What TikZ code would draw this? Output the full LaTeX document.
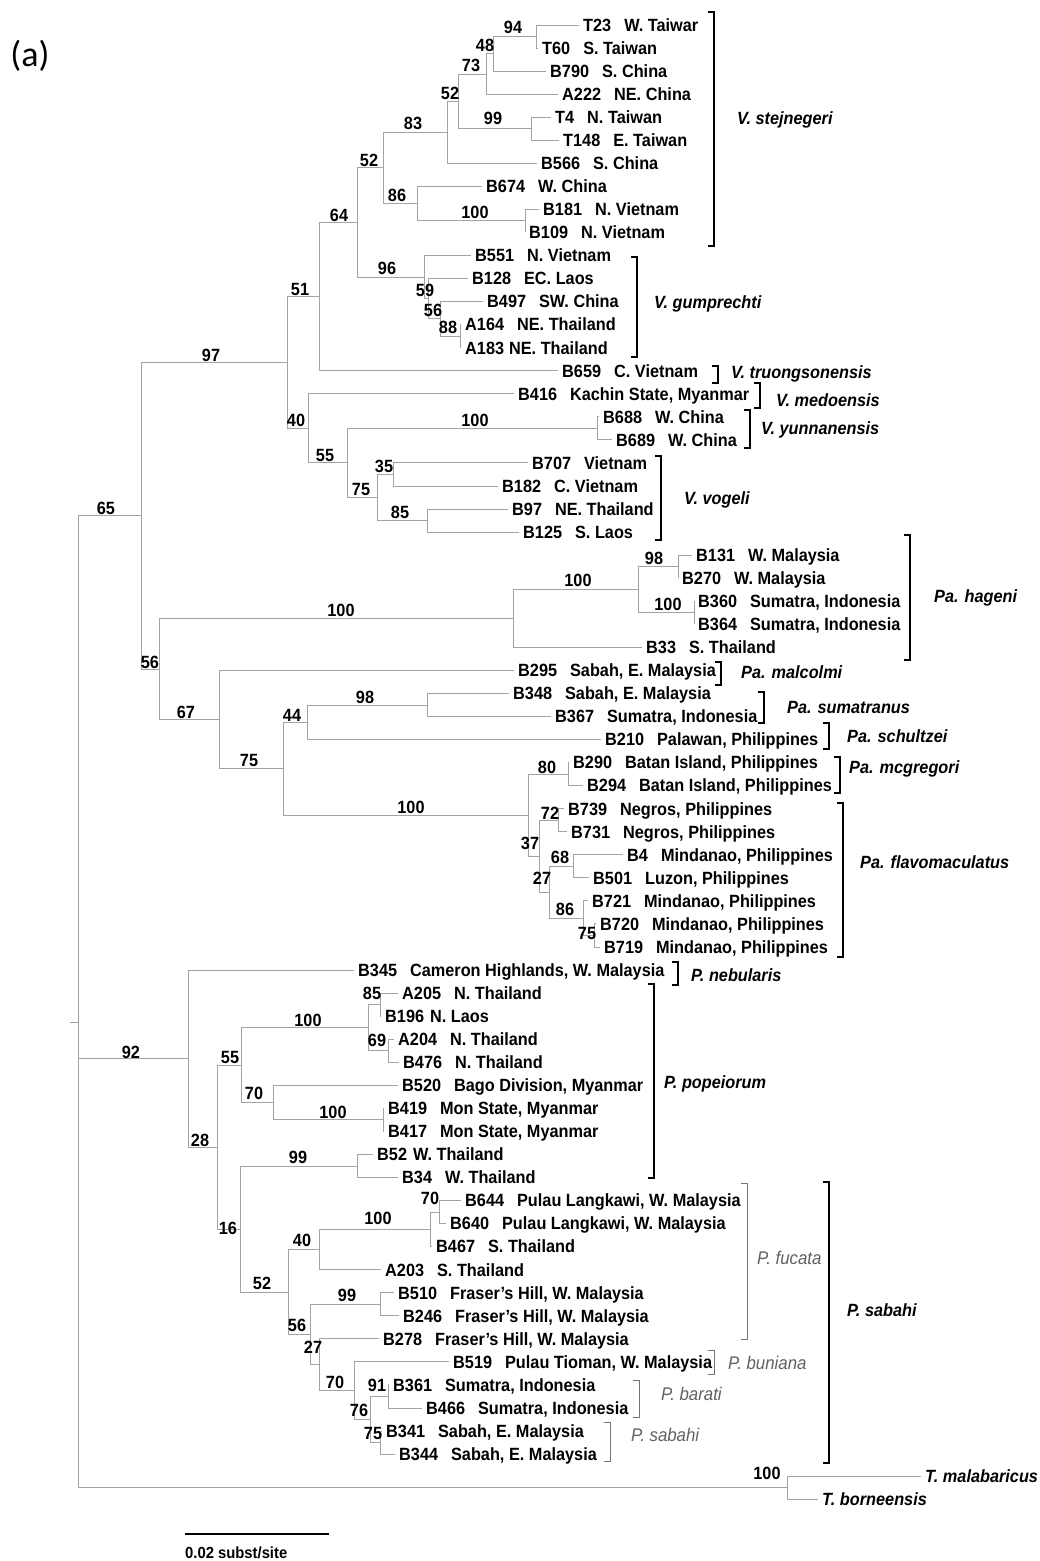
\documentclass[tikz,border=0pt]{standalone}
\usepackage{fontspec}
\setmainfont{Liberation Sans}[FakeStretch=0.92]
\newfontfamily\calibfont{Carlito}
\newcommand\codegap{\hspace{13pt}}
% leaf: name, parent, west x, y, text
\newcommand\tleaf[5]{\node[leaflab] (#1) at (#3,#4) {#5};\draw[branch] (#2) |- (#1.west);}
\newcommand\tleafit[5]{\node[leaflab,leafit] (#1) at (#3,#4) {#5};\draw[branch] (#2) |- (#1.west);}
% species bracket: x, top y, bottom y, style
\newcommand\clade[4]{\draw[#4] ([xshift=-6pt]#1,#2) -- (#1,#2) -- (#1,#3) -- ([xshift=-6pt]#1,#3);}
\begin{document}
\begin{tikzpicture}[x=1pt,y=-1pt,
  branch/.style={draw=black!36,line width=1pt},
  lab/.style={font=\bfseries\fontsize{17.7}{20}\selectfont,text height=12.6pt,text depth=0pt},
  leaflab/.style={lab,anchor=west,inner xsep=4pt,inner ysep=0pt},
  leafit/.style={font=\bfseries\itshape\fontsize{17.7}{20}\selectfont},
  bs/.style={lab,inner sep=0pt},
  sp/.style={anchor=west,inner sep=0pt,text height=12.6pt,text depth=0pt,font=\bfseries\itshape\fontsize{17.7}{20}\selectfont},
  spg/.style={anchor=west,inner sep=0pt,text height=12.6pt,text depth=0pt,text=black!62,font=\itshape\fontsize{18.3}{20}\selectfont},
  brk/.style={draw=black,line width=1.5pt},
  brkg/.style={draw=black!55,line width=1pt}]
\useasboundingbox (0,0) rectangle (1040,1561);
\fill[white] (0,0) rectangle (1040,1561);

\node[font=\calibfont\fontsize{36}{42}\selectfont,inner sep=0pt] (panel) at (30,56) {(a)};

% ---------- internal nodes ----------
\coordinate (root) at (78,1022);
\coordinate (rootstub) at (70,1022);
\coordinate (n65) at (141,515.75);
\coordinate (n97) at (287,362.5);
\coordinate (n51) at (319,296.6);
\coordinate (n64) at (357,222.5);
\coordinate (n52) at (383,167.95);
\coordinate (n83) at (447,132.3);
\coordinate (n52b) at (458,101.35);
\coordinate (n73) at (486,74.0);
\coordinate (n48) at (493,53.8);
\coordinate (n94) at (536,36.5);
\coordinate (n99) at (531,128.7);
\coordinate (n86) at (417,203.6);
\coordinate (n100a) at (525,220.9);
\coordinate (n96) at (424,277.1);
\coordinate (n59) at (428,298.7);
\coordinate (n56g) at (440,318.9);
\coordinate (n88) at (460,336.2);
\coordinate (n40) at (308,428.4);
\coordinate (n55) at (347,462.95);
\coordinate (n100y) at (597,428.4);
\coordinate (n75v) at (377,497.5);
\coordinate (n35) at (393,474.5);
\coordinate (n85v) at (427,520.6);
\coordinate (n56) at (159.5,669.0);
\coordinate (n100h) at (513,618.5);
\coordinate (n100h2) at (638,589.7);
\coordinate (n98h) at (678,566.7);
\coordinate (n100h3) at (694,612.8);
\coordinate (n67) at (219,719.55);
\coordinate (n75p) at (283,768.7);
\coordinate (n44) at (307,722.3);
\coordinate (n98p) at (427,705.0);
\coordinate (n100f) at (528,815.15);
\coordinate (n80) at (568,774.1);
\coordinate (n37) at (539,856.2);
\coordinate (n72) at (558,820.2);
\coordinate (n27f) at (549,892.25);
\coordinate (n68) at (573,866.3);
\coordinate (n86f) at (583,918.2);
\coordinate (n75f) at (594,935.5);
\coordinate (n92) at (188,1058.55);
\coordinate (n28) at (217,1147.05);
\coordinate (n55p) at (241,1065.1);
\coordinate (n100pp) at (368,1027.65);
\coordinate (n85p) at (380,1004.6);
\coordinate (n69) at (388,1050.7);
\coordinate (n70p) at (273,1102.6);
\coordinate (n100m) at (383,1119.9);
\coordinate (n16) at (240,1229.0);
\coordinate (n99w) at (357,1166.0);
\coordinate (n52s) at (288,1292.05);
\coordinate (n40s) at (319,1249.55);
\coordinate (n100L) at (430,1229.4);
\coordinate (n70L) at (439,1212.1);
\coordinate (n56s) at (310,1334.55);
\coordinate (n99f) at (380,1304.3);
\coordinate (n27s) at (319,1364.8);
\coordinate (n70s) at (354,1390.7);
\coordinate (n76) at (370,1419.55);
\coordinate (n91) at (388,1396.5);
\coordinate (n75s) at (380,1442.6);
\coordinate (nog) at (787,1487.5);

% ---------- branches between internal nodes ----------
\draw[branch] (rootstub) -- (root);
\foreach \p/\c in {root/n65,root/n92,root/nog,
  n65/n97,n65/n56,n97/n51,n97/n40,n51/n64,n64/n52,n64/n96,n52/n83,n52/n86,
  n83/n52b,n52b/n73,n52b/n99,n73/n48,n48/n94,n86/n100a,n96/n59,n59/n56g,n56g/n88,
  n40/n55,n55/n100y,n55/n75v,n75v/n35,n75v/n85v,
  n56/n100h,n56/n67,n100h/n100h2,n100h2/n98h,n100h2/n100h3,n67/n75p,n75p/n44,n75p/n100f,
  n44/n98p,n100f/n80,n100f/n37,n37/n72,n37/n27f,n27f/n68,n27f/n86f,n86f/n75f,
  n92/n28,n28/n55p,n28/n16,n55p/n100pp,n55p/n70p,n100pp/n85p,n100pp/n69,n70p/n100m,
  n16/n99w,n16/n52s,n52s/n40s,n52s/n56s,n40s/n100L,n100L/n70L,n56s/n99f,n56s/n27s,
  n27s/n70s,n70s/n76,n76/n91,n76/n75s}
  \draw[branch] (\p) |- (\c);

% ---------- leaves ----------
\tleaf{T23}{n94}{579}{25.00}{T23\codegap W. Taiwar}
\tleaf{T60}{n94}{538}{48.05}{T60\codegap S. Taiwan}
\tleaf{B790}{n48}{546}{71.10}{B790\codegap S. China}
\tleaf{A222}{n73}{558}{94.15}{A222\codegap NE. China}
\tleaf{T4}{n99}{551}{117.20}{T4\codegap N. Taiwan}
\tleaf{T148}{n99}{559}{140.25}{T148\codegap E. Taiwan}
\tleaf{B566}{n83}{537}{163.30}{B566\codegap S. China}
\tleaf{B674}{n86}{482}{186.35}{B674\codegap W. China}
\tleaf{B181}{n100a}{539}{209.40}{B181\codegap N. Vietnam}
\tleaf{B109}{n100a}{525}{232.45}{B109\codegap N. Vietnam}
\tleaf{B551}{n96}{471}{255.50}{B551\codegap N. Vietnam}
\tleaf{B128}{n59}{468}{278.55}{B128\codegap EC. Laos}
\tleaf{B497}{n56g}{483}{301.60}{B497\codegap SW. China}
\tleaf{A164}{n88}{461}{324.65}{A164\codegap NE. Thailand}
\tleaf{A183}{n88}{461}{347.70}{A183\hspace{5pt}NE. Thailand}
\tleaf{B659}{n51}{558}{370.75}{B659\codegap C. Vietnam}
\tleaf{B416}{n40}{514}{393.80}{B416\codegap Kachin State, Myanmar}
\tleaf{B688}{n100y}{599}{416.85}{B688\codegap W. China}
\tleaf{B689}{n100y}{612}{439.90}{B689\codegap W. China}
\tleaf{B707}{n35}{528}{462.95}{B707\codegap Vietnam}
\tleaf{B182}{n35}{498}{486.00}{B182\codegap C. Vietnam}
\tleaf{B97}{n85v}{508}{509.05}{B97\codegap NE. Thailand}
\tleaf{B125}{n85v}{519}{532.10}{B125\codegap S. Laos}
\tleaf{B131}{n98h}{692}{555.15}{B131\codegap W. Malaysia}
\tleaf{B270}{n98h}{678}{578.20}{B270\codegap W. Malaysia}
\tleaf{B360}{n100h3}{694}{601.25}{B360\codegap Sumatra, Indonesia}
\tleaf{B364}{n100h3}{694}{624.30}{B364\codegap Sumatra, Indonesia}
\tleaf{B33}{n100h}{642}{647.35}{B33\codegap S. Thailand}
\tleaf{B295}{n67}{514}{670.40}{B295\codegap Sabah, E. Malaysia}
\tleaf{B348}{n98p}{509}{693.45}{B348\codegap Sabah, E. Malaysia}
\tleaf{B367}{n98p}{551}{716.50}{B367\codegap Sumatra, Indonesia}
\tleaf{B210}{n44}{601}{739.55}{B210\codegap Palawan, Philippines}
\tleaf{B290}{n80}{569}{762.60}{B290\codegap Batan Island, Philippines}
\tleaf{B294}{n80}{583}{785.65}{B294\codegap Batan Island, Philippines}
\tleaf{B739}{n72}{564}{808.70}{B739\codegap Negros, Philippines}
\tleaf{B731}{n72}{567}{831.75}{B731\codegap Negros, Philippines}
\tleaf{B4}{n68}{623}{854.80}{B4\codegap Mindanao, Philippines}
\tleaf{B501}{n68}{589}{877.85}{B501\codegap Luzon, Philippines}
\tleaf{B721}{n86f}{588}{900.90}{B721\codegap Mindanao, Philippines}
\tleaf{B720}{n75f}{596}{923.95}{B720\codegap Mindanao, Philippines}
\tleaf{B719}{n75f}{600}{947.00}{B719\codegap Mindanao, Philippines}
\tleaf{B345}{n92}{354}{970.05}{B345\codegap Cameron Highlands, W. Malaysia}
\tleaf{A205}{n85p}{398}{993.10}{A205\codegap N. Thailand}
\tleaf{B196}{n85p}{381}{1016.15}{B196\hspace{6pt}N. Laos}
\tleaf{A204}{n69}{394}{1039.20}{A204\codegap N. Thailand}
\tleaf{B476}{n69}{399}{1062.25}{B476\codegap N. Thailand}
\tleaf{B520}{n70p}{398}{1085.30}{B520\codegap Bago Division, Myanmar}
\tleaf{B419}{n100m}{384}{1108.35}{B419\codegap Mon State, Myanmar}
\tleaf{B417}{n100m}{384}{1131.40}{B417\codegap Mon State, Myanmar}
\tleaf{B52}{n99w}{373}{1154.45}{B52\hspace{6pt}W. Thailand}
\tleaf{B34}{n99w}{398}{1177.50}{B34\codegap W. Thailand}
\tleaf{B644}{n70L}{461}{1200.55}{B644\codegap Pulau Langkawi, W. Malaysia}
\tleaf{B640}{n70L}{446}{1223.60}{B640\codegap Pulau Langkawi, W. Malaysia}
\tleaf{B467}{n100L}{432}{1246.65}{B467\codegap S. Thailand}
\tleaf{A203}{n40s}{381}{1269.70}{A203\codegap S. Thailand}
\tleaf{B510}{n99f}{394}{1292.75}{B510\codegap Fraser's Hill, W. Malaysia}
\tleaf{B246}{n99f}{399}{1315.80}{B246\codegap Fraser's Hill, W. Malaysia}
\tleaf{B278}{n27s}{379}{1338.85}{B278\codegap Fraser's Hill, W. Malaysia}
\tleaf{B519}{n70s}{449}{1361.90}{B519\codegap Pulau Tioman, W. Malaysia}
\tleaf{B361}{n91}{389}{1384.95}{B361\codegap Sumatra, Indonesia}
\tleaf{B466}{n91}{422}{1408.00}{B466\codegap Sumatra, Indonesia}
\tleaf{B341}{n75s}{382}{1431.05}{B341\codegap Sabah, E. Malaysia}
\tleaf{B344}{n75s}{395}{1454.10}{B344\codegap Sabah, E. Malaysia}
\tleafit{Tmal}{nog}{921}{1476}{T. malabaricus}
\tleafit{Tbor}{nog}{818}{1499}{T. borneensis}

% ---------- bootstrap values ----------
\node[bs] (b94) at (513,27) {94};
\node[bs] (b48) at (485,45) {48};
\node[bs] (b73) at (471,65) {73};
\node[bs] (b52b) at (450,93) {52};
\node[bs] (b99) at (493,118) {99};
\node[bs] (b83) at (413,123) {83};
\node[bs] (b86) at (397,195) {86};
\node[bs] (b100a) at (475,212) {100};
\node[bs] (b52) at (369,160) {52};
\node[bs] (b64) at (339,215) {64};
\node[bs] (b96) at (387,268) {96};
\node[bs] (b51) at (300,289) {51};
\node[bs] (b59) at (425,290) {59};
\node[bs] (b56g) at (433,310) {56};
\node[bs] (b88) at (448,327) {88};
\node[bs] (b40) at (296,420) {40};
\node[bs] (b100y) at (475,420) {100};
\node[bs] (b55) at (325,455) {55};
\node[bs] (b35) at (384,466) {35};
\node[bs] (b75v) at (361,489) {75};
\node[bs] (b85v) at (400,512) {85};
\node[bs] (b97) at (211,355) {97};
\node[bs] (b65) at (106,508) {65};
\node[bs] (b100h) at (341,610) {100};
\node[bs] (b100h2) at (578,580) {100};
\node[bs] (b98h) at (654,558) {98};
\node[bs] (b100h3) at (668,604) {100};
\node[bs] (b56) at (150,662) {56};
\node[bs] (b67) at (186,712) {67};
\node[bs] (b98p) at (365,697) {98};
\node[bs] (b44) at (292,715) {44};
\node[bs] (b75p) at (249,760) {75};
\node[bs] (b80) at (547,767) {80};
\node[bs] (b100f) at (411,807) {100};
\node[bs] (b72) at (550,813) {72};
\node[bs] (b37) at (530,843) {37};
\node[bs] (b68) at (560,857) {68};
\node[bs] (b27f) at (542,878) {27};
\node[bs] (b86f) at (565,909) {86};
\node[bs] (b75f) at (587,933) {75};
\node[bs] (b92) at (131,1052) {92};
\node[bs] (b85p) at (372,993) {85};
\node[bs] (b100pp) at (308,1020) {100};
\node[bs] (b69) at (377,1040) {69};
\node[bs] (b55p) at (230,1057) {55};
\node[bs] (b70p) at (254,1093) {70};
\node[bs] (b100m) at (333,1112) {100};
\node[bs] (b28) at (200,1140) {28};
\node[bs] (b99w) at (298,1157) {99};
\node[bs] (b70L) at (430,1198) {70};
\node[bs] (b100L) at (378,1218) {100};
\node[bs] (b16) at (228,1228) {16};
\node[bs] (b40s) at (302,1240) {40};
\node[bs] (b52s) at (262,1283) {52};
\node[bs] (b99f) at (347,1295) {99};
\node[bs] (b56s) at (297,1325) {56};
\node[bs] (b27s) at (313,1347) {27};
\node[bs] (b70s) at (335,1382) {70};
\node[bs] (b91) at (377,1385) {91};
\node[bs] (b76) at (359,1410) {76};
\node[bs] (b75s) at (373,1433) {75};
\node[bs] (b100og) at (767,1473) {100};

% ---------- species brackets and names ----------
\clade{714}{12}{246}{brk}   \node[sp] (sStej) at (737,118) {V. stejnegeri};
\clade{637}{257}{357}{brk}  \node[sp] (sGump) at (654,302) {V. gumprechti};
\clade{718}{366}{383}{brk}  \node[sp] (sTruo) at (731,372) {V. truongsonensis};
\clade{760}{383}{408}{brk}  \node[sp] (sMedo) at (776,400) {V. medoensis};
\clade{750}{410}{448}{brk}  \node[sp] (sYunn) at (761,428) {V. yunnanensis};
\clade{661}{456}{540}{brk}  \node[sp] (sVoge) at (684,498) {V. vogeli};
\clade{910}{535}{660}{brk}  \node[sp] (sHage) at (934,596) {Pa. hageni};
\clade{721}{662}{685}{brk}  \node[sp] (sMalc) at (741,672) {Pa. malcolmi};
\clade{764}{692}{723}{brk}  \node[sp] (sSuma) at (787,707) {Pa. sumatranus};
\clade{829}{723}{749}{brk}  \node[sp] (sSchu) at (847,736) {Pa. schultzei};
\clade{840}{757}{793}{brk}  \node[sp] (sMcgr) at (849,767) {Pa. mcgregori};
\clade{843}{803}{957}{brk}  \node[sp] (sFlav) at (860,862) {Pa. flavomaculatus};
\clade{678}{962}{985}{brk}  \node[sp] (sNebu) at (691,975) {P. nebularis};
\clade{654}{984}{1178}{brk} \node[sp] (sPope) at (664,1082) {P. popeiorum};
\clade{829}{1182}{1463}{brk} \node[sp] (sSaba) at (847,1310) {P. sabahi};
\clade{747}{1183}{1339}{brkg} \node[spg] (sFuca) at (757,1258) {P. fucata};
\clade{714}{1350}{1374}{brkg} \node[spg] (sBuni) at (728,1363) {P. buniana};
\clade{639}{1380}{1417}{brkg} \node[spg] (sBara) at (661,1394) {P. barati};
\clade{610}{1422}{1461}{brkg} \node[spg] (sSabs) at (631,1435) {P. sabahi};

% ---------- scale bar ----------
\coordinate (sbL) at (185,1534);
\coordinate (sbR) at (329,1534);
\draw[line width=2.4pt] (sbL) -- (sbR);
\node[anchor=west,inner sep=0pt,text height=11.4pt,text depth=0pt,font=\bfseries\fontsize{16.1}{18}\selectfont] (sbtext) at (185,1553) {0.02 subst/site};
\end{tikzpicture}
\end{document}
